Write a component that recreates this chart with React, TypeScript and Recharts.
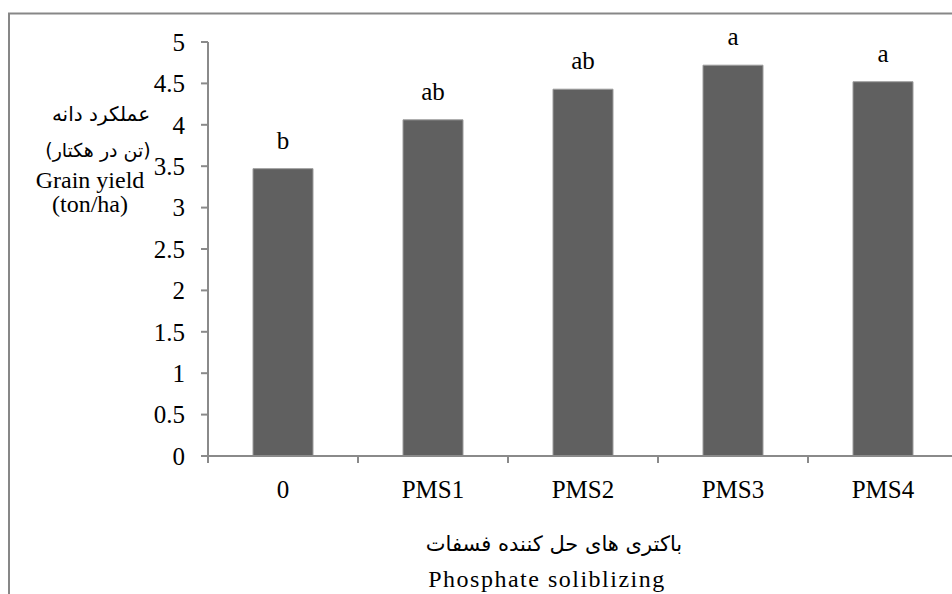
import { Bar, BarChart, LabelList, XAxis, YAxis } from "recharts";

const categories = ["0", "PMS1", "PMS2", "PMS3", "PMS4"];
const grainYield = [3.47, 4.06, 4.43, 4.72, 4.52];
const groupLetters = ["b", "ab", "ab", "a", "a"];
const yTicks = [0, 0.5, 1, 1.5, 2, 2.5, 3, 3.5, 4, 4.5, 5];

const data = categories.map((name, i) => ({
  name,
  value: grainYield[i],
  letter: groupLetters[i],
}));

const SERIF = '"Liberation Serif", "Times New Roman", serif';
const PERSIAN = '"DejaVu Sans", "Noto Sans", sans-serif';
const AXIS = "#8a8a8a";
const TICK_SIZE = 7;
const X_TICK_MARGIN = 17;

// category labels centred, tick marks on the category boundaries (Excel style)
function CategoryTick(props: any) {
  const { x, y, payload, index } = props;
  const half = payload?.offset || 75;
  const axisY = y - TICK_SIZE - X_TICK_MARGIN;
  return (
    <g>
      <line x1={x - half} x2={x - half} y1={axisY} y2={axisY + TICK_SIZE} stroke={AXIS} strokeWidth={2} />
      {index === categories.length - 1 && (
        <line x1={x + half} x2={x + half} y1={axisY} y2={axisY + TICK_SIZE} stroke={AXIS} strokeWidth={2} />
      )}
      <text x={x} y={y} dy="0.71em" textAnchor="middle" fontSize={25} fontFamily={SERIF} fill="#000">
        {payload.value}
      </text>
    </g>
  );
}

export default function App() {
  return (
    <div
      style={{
        position: "absolute",
        left: 0,
        top: 0,
        width: 952,
        height: 594,
        overflow: "hidden",
        background: "#fff",
      }}
    >
      <BarChart
        width={1000}
        height={594}
        data={data}
        margin={{ top: 42, right: 42, left: 0, bottom: 38 }}
        barCategoryGap="30%"
      >
        <XAxis
          dataKey="name"
          height={100}
          axisLine={{ stroke: AXIS, strokeWidth: 2 }}
          tickLine={false}
          tickSize={TICK_SIZE}
          tickMargin={X_TICK_MARGIN}
          interval={0}
          tick={<CategoryTick />}
        />
        <YAxis
          width={208}
          domain={[0, 5]}
          ticks={yTicks}
          interval={0}
          axisLine={{ stroke: AXIS, strokeWidth: 2 }}
          tickLine={{ stroke: AXIS, strokeWidth: 2 }}
          tickSize={TICK_SIZE}
          tickMargin={16}
          tick={{ fill: "#000", fontSize: 25, fontFamily: SERIF }}
        />
        <Bar dataKey="value" fill="#606060" stroke="#9c9c9c" strokeWidth={1} isAnimationActive={false}>
          <LabelList dataKey="letter" position="top" offset={20} fill="#000" fontSize={25} fontFamily={SERIF} />
        </Bar>
      </BarChart>
      <svg
        width={952}
        height={594}
        style={{ position: "absolute", left: 0, top: 0, pointerEvents: "none" }}
      >
        <rect x={9} y={13.5} width={1000} height={1000} fill="none" stroke="#878787" strokeWidth={2} />
        <text x={101} y={121} textAnchor="middle" fontSize={20} fontFamily={PERSIAN} direction="rtl" fill="#000">
          عملکرد دانه
        </text>
        <text x={98} y={157} textAnchor="middle" fontSize={19} fontFamily={PERSIAN} direction="rtl" fill="#000">
          (تن در هکتار)
        </text>
        <text x={90} y={188} textAnchor="middle" fontSize={24} fontFamily={SERIF} fill="#000">
          Grain yield
        </text>
        <text x={90} y={212} textAnchor="middle" fontSize={24} fontFamily={SERIF} fill="#000">
          (ton/ha)
        </text>
        <text x={554} y={551} textAnchor="middle" fontSize={21} fontFamily={PERSIAN} direction="rtl" fill="#000">
          باکتری های حل کننده فسفات
        </text>
        <text x={547} y={587} textAnchor="middle" fontSize={24} fontFamily={SERIF} letterSpacing={1.5} fill="#000">
          Phosphate soliblizing
        </text>
      </svg>
    </div>
  );
}
